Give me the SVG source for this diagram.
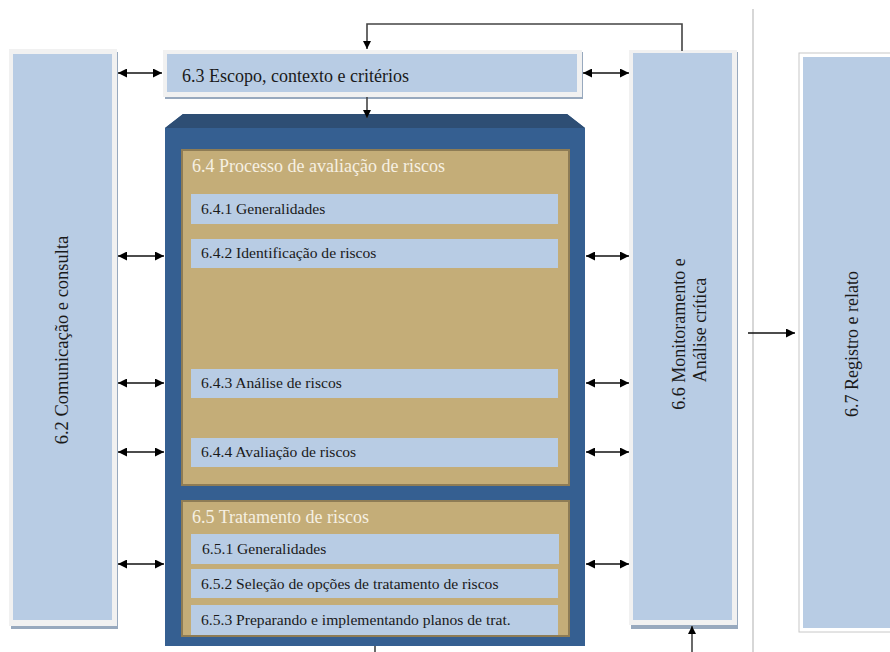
<svg xmlns="http://www.w3.org/2000/svg" width="890" height="652" viewBox="0 0 890 652">
<style>
.frame{fill:#f1f1f1;}
.shadow{fill:#98a9be;}
.lb{fill:#b8cce4;}
.gold{fill:#c4ad78;stroke:#8e7c55;stroke-width:2;}
.t{font-family:"Liberation Serif",serif;fill:#1a1a1a;}
.tw{font-family:"Liberation Serif",serif;fill:#f6f0e2;font-size:18px;}
.s{font-size:15.6px;}
.ln{stroke:#111;stroke-width:1.4;fill:none;}
.gl{stroke:#444;stroke-width:1.6;fill:none;}
</style>
<defs>
<marker id="ah" viewBox="0 0 10 10" refX="10" refY="5" markerWidth="8" markerHeight="8" markerUnits="userSpaceOnUse" orient="auto-start-reverse">
<path d="M0,0 L10,5 L0,10 z" fill="#000"/>
</marker>
<marker id="ah2" viewBox="0 0 10 10" refX="10" refY="5" markerWidth="9" markerHeight="9" markerUnits="userSpaceOnUse" orient="auto-start-reverse">
<path d="M0,0 L10,5 L0,10 z" fill="#000"/>
</marker>
</defs>
<rect width="890" height="652" fill="#fff"/>
<line x1="753" y1="9" x2="753" y2="652" stroke="#bdbdbd" stroke-width="1.2"/>

<g id="n62">
<rect class="shadow" x="11" y="52" width="107" height="577"/>
<rect class="frame" x="9" y="49" width="108" height="577"/>
<rect class="lb" x="13" y="54" width="99" height="566"/>
<text class="t" font-size="18.5" transform="translate(68,340) rotate(-90)" text-anchor="middle">6.2 Comunicação e consulta</text>
</g>

<g id="n63">
<rect class="shadow" x="165" y="52" width="418" height="47"/>
<rect class="frame" x="163" y="50" width="419" height="47"/>
<rect class="lb" x="167" y="54" width="410" height="38"/>
<text class="t" font-size="18" x="182" y="82">6.3 Escopo, contexto e critérios</text>
</g>

<g id="n66">
<rect class="shadow" x="631" y="52" width="107" height="577"/>
<rect class="frame" x="629" y="50" width="108" height="575"/>
<rect class="lb" x="633" y="53" width="99" height="567"/>
<text class="t" font-size="18" transform="translate(685,334) rotate(-90)" text-anchor="middle">6.6 Monitoramento e</text>
<text class="t" font-size="18" transform="translate(706,330) rotate(-90)" text-anchor="middle">Análise crítica</text>
</g>

<g id="n67">
<rect x="799" y="53" width="95" height="579" fill="#fff" stroke="#c8c8c8" stroke-width="1"/>
<rect class="lb" x="803" y="57" width="90" height="571"/>
<text class="t" font-size="18" transform="translate(858,344) rotate(-90)" text-anchor="middle">6.7 Registro e relato</text>
</g>

<g id="blue">
<path d="M165,128 L183,114 L567,114 L585,128 L585,646 L165,646 Z" fill="#355f91"/>
<path d="M165,128 L183,114 L567,114 L585,128 Z" fill="#2e4e74"/>
</g>

<g id="n64">
<rect class="gold" x="182" y="150" width="387" height="335"/>
<text class="tw" x="192" y="172">6.4 Processo de avaliação de riscos</text>
</g>
<g id="n641"><rect class="lb" x="191" y="194" width="367" height="30"/><text class="t s" x="201" y="214">6.4.1 Generalidades</text></g>
<g id="n642"><rect class="lb" x="191" y="239" width="367" height="29"/><text class="t s" x="201" y="258">6.4.2 Identificação de riscos</text></g>
<g id="n643"><rect class="lb" x="191" y="369" width="367" height="29"/><text class="t s" x="201" y="388">6.4.3 Análise de riscos</text></g>
<g id="n644"><rect class="lb" x="191" y="438" width="367" height="29"/><text class="t s" x="201" y="457">6.4.4 Avaliação de riscos</text></g>

<g id="n65">
<rect class="gold" x="182" y="501" width="387" height="135"/>
<text class="tw" x="192" y="523">6.5 Tratamento de riscos</text>
</g>
<g id="n651"><rect class="lb" x="191" y="534" width="368" height="30"/><text class="t s" x="202" y="554">6.5.1 Generalidades</text></g>
<g id="n652"><rect class="lb" x="191" y="569" width="367" height="29"/><text class="t s" x="201" y="589">6.5.2 Seleção de opções de tratamento de riscos</text></g>
<g id="n653"><rect class="lb" x="191" y="605" width="367" height="30"/><text class="t s" x="201" y="625">6.5.3 Preparando e implementando planos de trat.</text></g>

<g id="connectors">
<path class="gl" d="M682,51 L682,24 L367,24 L367,49" marker-end="url(#ah)"/>
<line class="gl" x1="367" y1="97" x2="367" y2="118" marker-end="url(#ah)"/>
<line class="ln" x1="118" y1="73" x2="162" y2="73" marker-start="url(#ah2)" marker-end="url(#ah2)"/>
<line class="ln" x1="583" y1="73" x2="629" y2="73" marker-start="url(#ah2)" marker-end="url(#ah2)"/>
<line class="ln" x1="118" y1="256" x2="164" y2="256" marker-start="url(#ah2)" marker-end="url(#ah2)"/>
<line class="ln" x1="118" y1="383" x2="164" y2="383" marker-start="url(#ah2)" marker-end="url(#ah2)"/>
<line class="ln" x1="118" y1="452" x2="164" y2="452" marker-start="url(#ah2)" marker-end="url(#ah2)"/>
<line class="ln" x1="118" y1="564" x2="164" y2="564" marker-start="url(#ah2)" marker-end="url(#ah2)"/>
<line class="ln" x1="586" y1="256" x2="629" y2="256" marker-start="url(#ah2)" marker-end="url(#ah2)"/>
<line class="ln" x1="586" y1="383" x2="629" y2="383" marker-start="url(#ah2)" marker-end="url(#ah2)"/>
<line class="ln" x1="586" y1="452" x2="629" y2="452" marker-start="url(#ah2)" marker-end="url(#ah2)"/>
<line class="ln" x1="586" y1="564" x2="629" y2="564" marker-start="url(#ah2)" marker-end="url(#ah2)"/>
<line class="ln" x1="748" y1="333" x2="795" y2="333" marker-end="url(#ah2)"/>
<line class="gl" x1="692" y1="652" x2="692" y2="626" marker-end="url(#ah)"/>
<line class="gl" x1="375" y1="646" x2="375" y2="652"/>
</g>
</svg>
